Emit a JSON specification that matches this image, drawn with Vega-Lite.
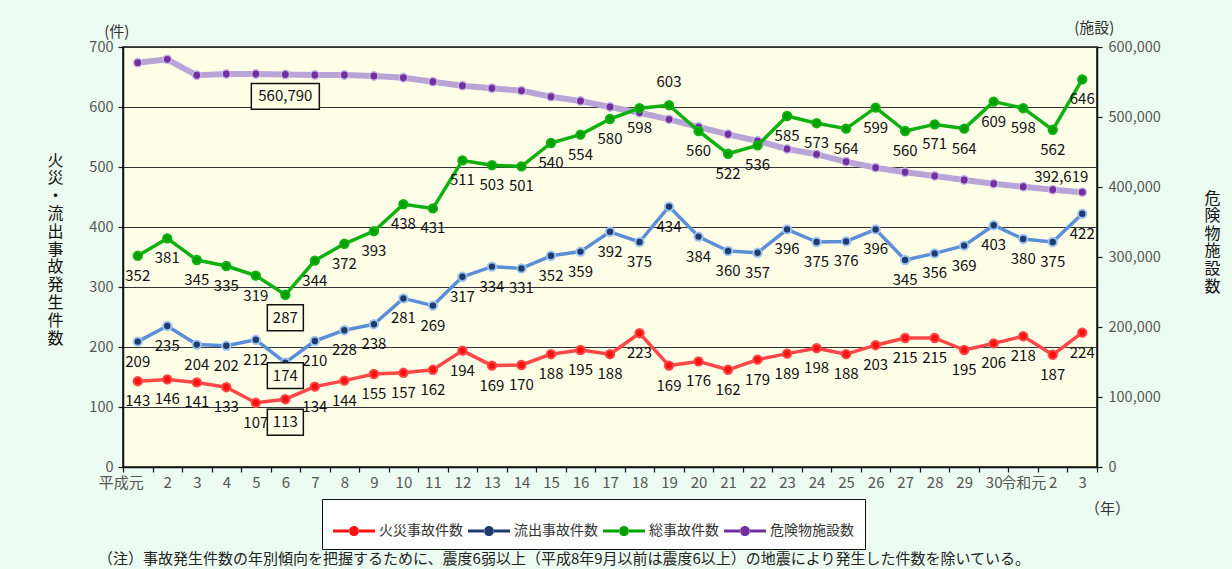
{
  "$schema": "https://vega.github.io/schema/vega-lite/v6.json",
  "width": 974,
  "height": 420,
  "autosize": {"type": "none"},
  "padding": {"left": 123, "top": 47, "right": 135, "bottom": 102},
  "background": "#ECFCF2",
  "datasets": {
    "acc": [
      {"year": 1989, "火災事故件数": 143, "流出事故件数": 209, "総事故件数": 352},
      {"year": 1990, "火災事故件数": 146, "流出事故件数": 235, "総事故件数": 381},
      {"year": 1991, "火災事故件数": 141, "流出事故件数": 204, "総事故件数": 345},
      {"year": 1992, "火災事故件数": 133, "流出事故件数": 202, "総事故件数": 335},
      {"year": 1993, "火災事故件数": 107, "流出事故件数": 212, "総事故件数": 319},
      {"year": 1994, "火災事故件数": 113, "流出事故件数": 174, "総事故件数": 287},
      {"year": 1995, "火災事故件数": 134, "流出事故件数": 210, "総事故件数": 344},
      {"year": 1996, "火災事故件数": 144, "流出事故件数": 228, "総事故件数": 372},
      {"year": 1997, "火災事故件数": 155, "流出事故件数": 238, "総事故件数": 393},
      {"year": 1998, "火災事故件数": 157, "流出事故件数": 281, "総事故件数": 438},
      {"year": 1999, "火災事故件数": 162, "流出事故件数": 269, "総事故件数": 431},
      {"year": 2000, "火災事故件数": 194, "流出事故件数": 317, "総事故件数": 511},
      {"year": 2001, "火災事故件数": 169, "流出事故件数": 334, "総事故件数": 503},
      {"year": 2002, "火災事故件数": 170, "流出事故件数": 331, "総事故件数": 501},
      {"year": 2003, "火災事故件数": 188, "流出事故件数": 352, "総事故件数": 540},
      {"year": 2004, "火災事故件数": 195, "流出事故件数": 359, "総事故件数": 554},
      {"year": 2005, "火災事故件数": 188, "流出事故件数": 392, "総事故件数": 580},
      {"year": 2006, "火災事故件数": 223, "流出事故件数": 375, "総事故件数": 598},
      {"year": 2007, "火災事故件数": 169, "流出事故件数": 434, "総事故件数": 603},
      {"year": 2008, "火災事故件数": 176, "流出事故件数": 384, "総事故件数": 560},
      {"year": 2009, "火災事故件数": 162, "流出事故件数": 360, "総事故件数": 522},
      {"year": 2010, "火災事故件数": 179, "流出事故件数": 357, "総事故件数": 536},
      {"year": 2011, "火災事故件数": 189, "流出事故件数": 396, "総事故件数": 585},
      {"year": 2012, "火災事故件数": 198, "流出事故件数": 375, "総事故件数": 573},
      {"year": 2013, "火災事故件数": 188, "流出事故件数": 376, "総事故件数": 564},
      {"year": 2014, "火災事故件数": 203, "流出事故件数": 396, "総事故件数": 599},
      {"year": 2015, "火災事故件数": 215, "流出事故件数": 345, "総事故件数": 560},
      {"year": 2016, "火災事故件数": 215, "流出事故件数": 356, "総事故件数": 571},
      {"year": 2017, "火災事故件数": 195, "流出事故件数": 369, "総事故件数": 564},
      {"year": 2018, "火災事故件数": 206, "流出事故件数": 403, "総事故件数": 609},
      {"year": 2019, "火災事故件数": 218, "流出事故件数": 380, "総事故件数": 598},
      {"year": 2020, "火災事故件数": 187, "流出事故件数": 375, "総事故件数": 562},
      {"year": 2021, "火災事故件数": 224, "流出事故件数": 422, "総事故件数": 646}
    ],
    "fac": [
      {"year": 1989, "危険物施設数": 577600},
      {"year": 1990, "危険物施設数": 582400},
      {"year": 1991, "危険物施設数": 559600},
      {"year": 1992, "危険物施設数": 561400},
      {"year": 1993, "危険物施設数": 561400},
      {"year": 1994, "危険物施設数": 560790},
      {"year": 1995, "危険物施設数": 560000},
      {"year": 1996, "危険物施設数": 560000},
      {"year": 1997, "危険物施設数": 558600},
      {"year": 1998, "危険物施設数": 556100},
      {"year": 1999, "危険物施設数": 550400},
      {"year": 2000, "危険物施設数": 544700},
      {"year": 2001, "危険物施設数": 541000},
      {"year": 2002, "危険物施設数": 537600},
      {"year": 2003, "危険物施設数": 529000},
      {"year": 2004, "危険物施設数": 522900},
      {"year": 2005, "危険物施設数": 514300},
      {"year": 2006, "危険物施設数": 506100},
      {"year": 2007, "危険物施設数": 496700},
      {"year": 2008, "危険物施設数": 485700},
      {"year": 2009, "危険物施設数": 475300},
      {"year": 2010, "危険物施設数": 465700},
      {"year": 2011, "危険物施設数": 454300},
      {"year": 2012, "危険物施設数": 446700},
      {"year": 2013, "危険物施設数": 436100},
      {"year": 2014, "危険物施設数": 427600},
      {"year": 2015, "危険物施設数": 421000},
      {"year": 2016, "危険物施設数": 415700},
      {"year": 2017, "危険物施設数": 410000},
      {"year": 2018, "危険物施設数": 404700},
      {"year": 2019, "危険物施設数": 400400},
      {"year": 2020, "危険物施設数": 396100},
      {"year": 2021, "危険物施設数": 392619}
    ]
  },
  "title": {
    "text": "（注）事故発生件数の年別傾向を把握するために、震度6弱以上（平成8年9月以前は震度6以上）の地震により発生した件数を除いている。",
    "orient": "bottom",
    "anchor": "start",
    "frame": "group",
    "dx": -25,
    "offset": 2,
    "fontSize": 15,
    "fontWeight": "normal",
    "color": "#222",
    "font": "Noto Sans CJK JP"
  },
  "encoding": {
    "x": {
      "field": "year",
      "type": "ordinal",
      "bandPosition": 0.5,
      "scale": {"type": "band", "paddingInner": 0, "paddingOuter": 0},
      "axis": {
        "tickBand": "extent",
        "labelExpr": "!isValid(datum.value) || !(datum.value >= 1989) ? '' : datum.value == 1989 ? '平成元' : datum.value == 2019 ? '令和元' : datum.value > 2019 ? toString(datum.value - 2018) : toString(datum.value - 1988)",
        "labelOffset": {"condition": {"test": "datum.value == 1989", "value": -17}, "value": 0},
        "labelAngle": 0,
        "tickSize": 5,
        "labelPadding": 3,
        "labelFontSize": 15,
        "labelColor": "#555",
        "grid": false,
        "title": "（年）",
        "titleAngle": 0,
        "titleX": 984,
        "titleY": 41,
        "titleBaseline": "middle",
        "titleAlign": "center",
        "titleFontWeight": "normal",
        "titleFontSize": 15,
        "titleColor": "#333"
      }
    }
  },
  "layer": [
    {
      "data": {"name": "fac"},
      "transform": [{"fold": ["危険物施設数"], "as": ["series", "value"]}],
      "encoding": {
        "y": {
          "field": "value",
          "type": "quantitative",
          "scale": {"domain": [0, 600000], "nice": false},
          "axis": {
            "orient": "right",
            "values": [0, 100000, 200000, 300000, 400000, 500000, 600000],
            "labelExpr": "format(datum.value, ',')",
            "grid": false,
            "tickSize": 5,
            "labelPadding": 6,
            "title": ["危", "険", "物", "施", "設", "数"],
            "titleAngle": 0,
            "titleX": 115,
            "titleY": 143,
            "titleBaseline": "top",
            "titleAlign": "center",
            "titleLineHeight": 17.6,
            "titleFontSize": 16,
            "titleFontWeight": "normal",
            "titleColor": "#111"
          }
        }
      },
      "layer": [
        {
          "mark": {"type": "line", "strokeWidth": 6, "strokeJoin": "round"},
          "encoding": {
            "color": {
              "field": "series",
              "type": "nominal",
              "scale": {"domain": ["火災事故件数", "流出事故件数", "総事故件数", "危険物施設数"], "range": ["#FF4747", "#5A8FD8", "#10B010", "#B9A4D8"]},
              "legend": {
                "orient": "none",
                "legendX": 199,
                "legendY": 452,
                "direction": "horizontal",
                "title": null,
                "symbolType": "M-1,-0.07H-0.22V0.07H-1Z M0.22,-0.07H1V0.07H0.22Z M-0.24,0A0.24,0.24 0 1,0 0.24,0A0.24,0.24 0 1,0 -0.24,0Z",
                "symbolSize": 1764,
                "symbolStrokeWidth": 0,
                "labelFontSize": 14,
                "labelColor": "#333",
                "labelOffset": 4,
                "columnPadding": 5,
                "padding": 11,
                "strokeColor": "#111",
                "fillColor": "#FFFFFF",
                "encode": {"symbols": {"update": {"fill": {"scale": "color", "field": "value"}, "fillOpacity": {"value": 1}, "strokeWidth": {"value": 0}}}}
              }
            }
          }
        },
        {
          "mark": {"type": "point", "filled": true, "size": 70, "opacity": 1, "strokeWidth": 1.5},
          "encoding": {
            "fill": {"field": "series", "type": "nominal", "scale": {"domain": ["火災事故件数", "流出事故件数", "総事故件数", "危険物施設数"], "range": ["#FF1010", "#1F3A6E", "#00A000", "#7030A0"]}, "legend": null},
            "stroke": {"field": "series", "type": "nominal", "scale": {"domain": ["火災事故件数", "流出事故件数", "総事故件数", "危険物施設数"], "range": ["#FF4747", "#9CC2EE", "#10B010", "#C8B6E2"]}, "legend": null}
          }
        },
        {
          "transform": [{"filter": "datum.year == 1994"}],
          "mark": {"type": "point", "shape": "M-1,-0.38H1V0.38H-1Z", "size": 4624, "filled": true, "fill": "#FFFFE8", "stroke": "#111", "strokeWidth": 1.5, "opacity": 1, "yOffset": 22}
        },
        {
          "transform": [{"filter": "datum.year == 1994"}],
          "mark": {"type": "text", "dy": 22, "fontSize": 15, "color": "#111", "font": "Noto Sans CJK JP"},
          "encoding": {"text": {"field": "value", "type": "quantitative", "format": ","}}
        },
        {
          "transform": [{"filter": "datum.year == 2021"}],
          "mark": {"type": "text", "dx": -21, "dy": -15, "fontSize": 15, "color": "#111", "font": "Noto Sans CJK JP"},
          "encoding": {"text": {"field": "value", "type": "quantitative", "format": ","}}
        }
      ]
    },
    {
      "data": {"name": "acc"},
      "transform": [{"fold": ["火災事故件数", "流出事故件数", "総事故件数"], "as": ["series", "value"]}],
      "encoding": {
        "y": {
          "field": "value",
          "type": "quantitative",
          "scale": {"domain": [0, 700], "nice": false},
          "axis": {
            "orient": "left",
            "values": [0, 100, 200, 300, 400, 500, 600, 700],
            "grid": true,
            "gridColor": "#333",
            "gridWidth": 1,
            "tickSize": 5,
            "labelPadding": 5,
            "title": ["火", "災", "・", "流", "出", "事", "故", "発", "生", "件", "数"],
            "titleAngle": 0,
            "titleX": -68,
            "titleY": 105,
            "titleBaseline": "top",
            "titleAlign": "center",
            "titleLineHeight": 17.8,
            "titleFontSize": 16,
            "titleFontWeight": "normal",
            "titleColor": "#111"
          }
        }
      },
      "layer": [
        {
          "mark": {"type": "line", "strokeWidth": 3.5, "strokeJoin": "round"},
          "encoding": {
            "color": {
              "field": "series",
              "type": "nominal",
              "scale": {"domain": ["火災事故件数", "流出事故件数", "総事故件数", "危険物施設数"], "range": ["#FF4747", "#5A8FD8", "#10B010", "#B9A4D8"]},
              "legend": {
                "orient": "none",
                "legendX": 199,
                "legendY": 452,
                "direction": "horizontal",
                "title": null,
                "symbolType": "M-1,-0.07H-0.22V0.07H-1Z M0.22,-0.07H1V0.07H0.22Z M-0.24,0A0.24,0.24 0 1,0 0.24,0A0.24,0.24 0 1,0 -0.24,0Z",
                "symbolSize": 1764,
                "symbolStrokeWidth": 0,
                "labelFontSize": 14,
                "labelColor": "#333",
                "labelOffset": 4,
                "columnPadding": 5,
                "padding": 11,
                "strokeColor": "#111",
                "fillColor": "#FFFFFF",
                "encode": {"symbols": {"update": {"fill": {"scale": "color", "field": "value"}, "fillOpacity": {"value": 1}, "strokeWidth": {"value": 0}}}}
              }
            }
          }
        },
        {
          "mark": {"type": "point", "filled": true, "size": 70, "opacity": 1, "strokeWidth": 2},
          "encoding": {
            "fill": {"field": "series", "type": "nominal", "scale": {"domain": ["火災事故件数", "流出事故件数", "総事故件数", "危険物施設数"], "range": ["#FF1010", "#1F3A6E", "#00A000", "#7030A0"]}, "legend": null},
            "stroke": {"field": "series", "type": "nominal", "scale": {"domain": ["火災事故件数", "流出事故件数", "総事故件数", "危険物施設数"], "range": ["#FF4747", "#9CC2EE", "#10B010", "#C8B6E2"]}, "legend": null}
          }
        },
        {
          "transform": [{"filter": "datum.year == 1994 && datum.series != '流出事故件数'"}],
          "mark": {"type": "point", "shape": "M-1,-0.72H1V0.72H-1Z", "size": 1296, "filled": true, "fill": "#FFFFE8", "stroke": "#111", "strokeWidth": 1.5, "opacity": 1, "yOffset": 23}
        },
        {
          "transform": [{"filter": "datum.year == 1994 && datum.series == '流出事故件数'"}],
          "mark": {"type": "point", "shape": "M-1,-0.72H1V0.72H-1Z", "size": 1296, "filled": true, "fill": "#FFFFE8", "stroke": "#111", "strokeWidth": 1.5, "opacity": 1, "yOffset": 13}
        },
        {
          "transform": [{"filter": "datum.year == 1994 && datum.series != '流出事故件数'"}],
          "mark": {"type": "text", "dy": 23, "fontSize": 15, "color": "#111", "font": "Noto Sans CJK JP"},
          "encoding": {"text": {"field": "value", "type": "quantitative"}}
        },
        {
          "transform": [{"filter": "datum.year == 1994 && datum.series == '流出事故件数'"}],
          "mark": {"type": "text", "dy": 13, "fontSize": 15, "color": "#111", "font": "Noto Sans CJK JP"},
          "encoding": {"text": {"field": "value", "type": "quantitative"}}
        },
        {
          "transform": [{"filter": "datum.year == 2007 && datum.series == '総事故件数'"}],
          "mark": {"type": "text", "dy": -23, "fontSize": 15, "color": "#111", "font": "Noto Sans CJK JP"},
          "encoding": {"text": {"field": "value", "type": "quantitative"}}
        },
        {
          "transform": [{"filter": "datum.year != 1994 && !(datum.year == 2007 && datum.series == '総事故件数')"}],
          "mark": {"type": "text", "dy": 20, "fontSize": 15, "color": "#111", "font": "Noto Sans CJK JP"},
          "encoding": {"text": {"field": "value", "type": "quantitative"}}
        }
      ]
    },
    {
      "data": {"values": [{"year": 1989, "value": 700}]},
      "mark": {"type": "text", "text": "(件)", "dx": -21, "dy": -15, "fontSize": 15, "color": "#333", "font": "Noto Sans CJK JP"},
      "encoding": {"y": {"field": "value", "type": "quantitative", "scale": {"domain": [0, 700], "nice": false}, "axis": null}}
    },
    {
      "data": {"values": [{"year": 2021, "value": 700}]},
      "mark": {"type": "text", "text": "(施設)", "dx": 12, "dy": -19, "fontSize": 15, "color": "#333", "font": "Noto Sans CJK JP"},
      "encoding": {"y": {"field": "value", "type": "quantitative", "scale": {"domain": [0, 700], "nice": false}, "axis": null}}
    }
  ],
  "resolve": {"scale": {"y": "independent"}},
  "config": {
    "font": "Noto Sans CJK JP",
    "view": {"fill": "#FFFFE8", "stroke": "#111", "strokeWidth": 1.5},
    "axis": {
      "domainColor": "#111",
      "domainWidth": 1.5,
      "tickColor": "#111",
      "tickWidth": 1.2,
      "labelColor": "#555",
      "labelFontSize": 14.5,
      "labelFont": "Noto Sans CJK JP",
      "titleFont": "Noto Sans CJK JP"
    }
  }
}
